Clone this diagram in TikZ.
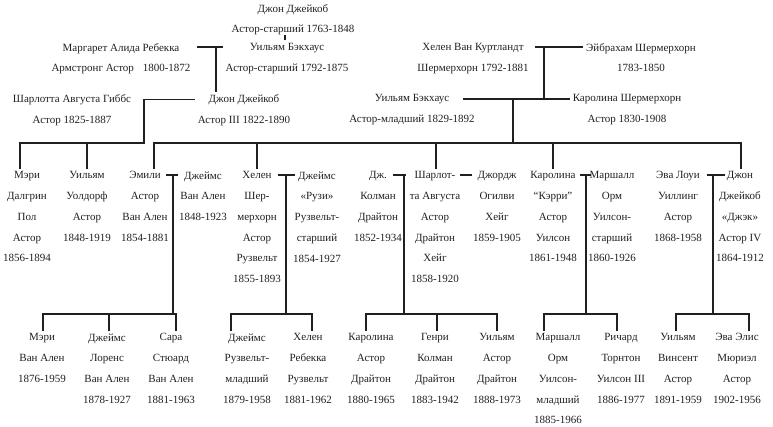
\documentclass[tikz,border=0pt]{standalone}
\usepackage{fontspec}
\setmainfont{Liberation Serif}
\definecolor{ink}{RGB}{35,31,32}
\tikzset{
person/.style={align=center, anchor=north, inner sep=0pt, outer sep=3pt, font=\fontsize{11}{20.7}\selectfont, text=ink}, % one box per person
link/.style={line width=1.5pt, draw=ink}, % family lines
}

\begin{document}
\begin{tikzpicture}[x=1pt, y=-1pt]
\useasboundingbox (0,0) rectangle (773,427);

% older generations
\node[person] (jj1) at (293,1.2) {Джон Джейкоб\\Астор-старший 1763-1848};
\node[person] (marg) at (121,40.2) {Маргарет Алида Ребекка\\Армстронг Астор\hspace{0.8em}1800-1872};
\node[person] (wb1) at (287,40.2) {Уильям Бэкхаус\\Астор-старший 1792-1875};
\node[person] (helvk) at (473,40.2) {Хелен Ван Куртландт\\Шермерхорн 1792-1881};
\node[person] (abr) at (641,40.2) {Эйбрахам Шермерхорн\\1783-1850};
\node[person] (charg) at (72,91.7) {Шарлотта Августа Гиббс\\Астор 1825-1887};
\node[person] (jj3) at (244,91.7) {Джон Джейкоб\\Астор III 1822-1890};
\node[person] (wb2) at (412,91.7) {Уильям Бэкхаус\\Астор-младший 1829-1892};
\node[person] (carsch) at (627,91.7) {Каролина Шермерхорн\\Астор 1830-1908};

% children
\node[person] (maryd) at (27,168.7) {Мэри\\Далгрин\\Пол\\Астор\\1856-1894};
\node[person] (ww) at (87,168.7) {Уильям\\Уолдорф\\Астор\\1848-1919};
\node[person] (emily) at (145,168.7) {Эмили\\Астор\\Ван Ален\\1854-1881};
\node[person] (jamesva) at (203,168.7) {Джеймс\\Ван Ален\\1848-1923};
\node[person] (helen) at (257,168.7) {Хелен\\Шер-\\мерхорн\\Астор\\Рузвельт\\1855-1893};
\node[person] (rosey) at (317,168.7) {Джеймс\\«Рузи»\\Рузвельт-\\старший\\1854-1927};
\node[person] (coleman) at (378,168.7) {Дж.\\Колман\\Драйтон\\1852-1934};
\node[person] (charl) at (435,168.7) {Шарлот-\\та Августа\\Астор\\Драйтон\\Хейг\\1858-1920};
\node[person] (george) at (497,168.7) {Джордж\\Огилви\\Хейг\\1859-1905};
\node[person] (carrie) at (553,168.7) {Каролина\\“Кэрри”\\Астор\\Уилсон\\1861-1948};
\node[person] (marshall) at (612,168.7) {Маршалл\\Орм\\Уилсон-\\старший\\1860-1926};
\node[person] (ava) at (678,168.7) {Эва Лоуи\\Уиллинг\\Астор\\1868-1958};
\node[person] (jj4) at (740,168.7) {Джон\\Джейкоб\\«Джэк»\\Астор IV\\1864-1912};

% grandchildren
\node[person] (maryva) at (42,330.7) {Мэри\\Ван Ален\\1876-1959};
\node[person] (jlva) at (107,330.7) {Джеймс\\Лоренс\\Ван Ален\\1878-1927};
\node[person] (sara) at (171,330.7) {Сара\\Стюард\\Ван Ален\\1881-1963};
\node[person] (jrjr) at (247,330.7) {Джеймс\\Рузвельт-\\младший\\1879-1958};
\node[person] (helenr) at (308,330.7) {Хелен\\Ребекка\\Рузвельт\\1881-1962};
\node[person] (cad) at (371,330.7) {Каролина\\Астор\\Драйтон\\1880-1965};
\node[person] (hcd) at (435,330.7) {Генри\\Колман\\Драйтон\\1883-1942};
\node[person] (wad) at (497,330.7) {Уильям\\Астор\\Драйтон\\1888-1973};
\node[person] (mowjr) at (558,330.7) {Маршалл\\Орм\\Уилсон-\\младший\\1885-1966};
\node[person] (rtw) at (621,330.7) {Ричард\\Торнтон\\Уилсон III\\1886-1977};
\node[person] (wva) at (678,330.7) {Уильям\\Винсент\\Астор\\1891-1959};
\node[person] (aem) at (737,330.7) {Эва Элис\\Мюриэл\\Астор\\1902-1956};

% marriages
\coordinate (m1) at (216,47);
\coordinate (m2) at (544,47);
\coordinate (m3) at (144,99.5);
\coordinate (m4) at (513,99);
\coordinate (m5) at (173,175);
\coordinate (m6) at (286,175);
\coordinate (m7) at (404,175);
\coordinate (m8) at (466,175);
\coordinate (m9) at (586,175);
\coordinate (m10) at (713,175);
\draw[link] ([xshift=-19pt]m1) -- (wb1.west |- m1);
\draw[link] ([xshift=-9pt]m2) -- (abr.west |- m2);
\draw[link] ([xshift=-1pt]m3) -- (jj3.west |- m3);
\draw[link] ([xshift=-50pt]m4) -- (carsch.west |- m4);
\draw[link] ([xshift=-7pt]m5) -- ([xshift=5pt]m5);
\draw[link] ([xshift=-8pt]m6) -- ([xshift=9pt]m6);
\draw[link] ([xshift=-11pt]m7) -- ([xshift=2pt]m7);
\draw[link] ([xshift=-6pt]m8) -- ([xshift=6pt]m8);
\draw[link] ([xshift=-6pt]m9) -- ([xshift=5pt]m9);
\draw[link] ([xshift=-6pt]m10) -- ([xshift=12pt]m10);

% parents to children
\draw[link] ([xshift=-2pt]wb1.north) -- ++(0,-5);
\draw[link] (m1) -- (m1 |- jj3.north);
\draw[link] (m2) -- (m2 |- m4);

\coordinate (b3) at (144,143);
\draw[link] (m3) -- (b3) -| ([xshift=-7pt]maryd.north);
\draw[link] (ww.north) -- (ww.north |- b3);

\coordinate (b4) at (513,143);
\draw[link] (m4) -- (b4);
\draw[link] ([xshift=9pt]emily.north) |- (b4) -| ([xshift=1pt]jj4.north);
\draw[link] (helen.north) -- (helen.north |- b4);
\draw[link] ([xshift=1pt]charl.north) -- ([xshift=1pt]charl.north |- b4);
\draw[link] (carrie.north) -- (carrie.north |- b4);

\coordinate (g5) at (173,314);
\draw[link] (m5) -- (g5);
\draw[link] ([xshift=1pt]maryva.north) |- (g5) -| ([xshift=5pt]sara.north);
\draw[link] ([xshift=2pt]jlva.north) -- ([xshift=2pt]jlva.north |- g5);

\coordinate (g6) at (286,314);
\draw[link] (m6) -- (g6);
\draw[link] ([xshift=-16pt]jrjr.north) |- (g6) -| ([xshift=4pt]helenr.north);

\coordinate (g7) at (404,314);
\draw[link] (m7) -- (g7);
\draw[link] ([xshift=-5pt]cad.north) |- (g7) -| (wad.north);
\draw[link] ([xshift=2pt]hcd.north) -- ([xshift=2pt]hcd.north |- g7);

\coordinate (g9) at (586,314);
\draw[link] (m9) -- (g9);
\draw[link] ([xshift=-14pt]mowjr.north) |- (g9) -| ([xshift=-4pt]rtw.north);

\coordinate (g10) at (713,314);
\draw[link] (m10) -- (g10);
\draw[link] ([xshift=-2pt]wva.north) |- (g10) -| ([xshift=12pt]aem.north);

\end{tikzpicture}
\end{document}
